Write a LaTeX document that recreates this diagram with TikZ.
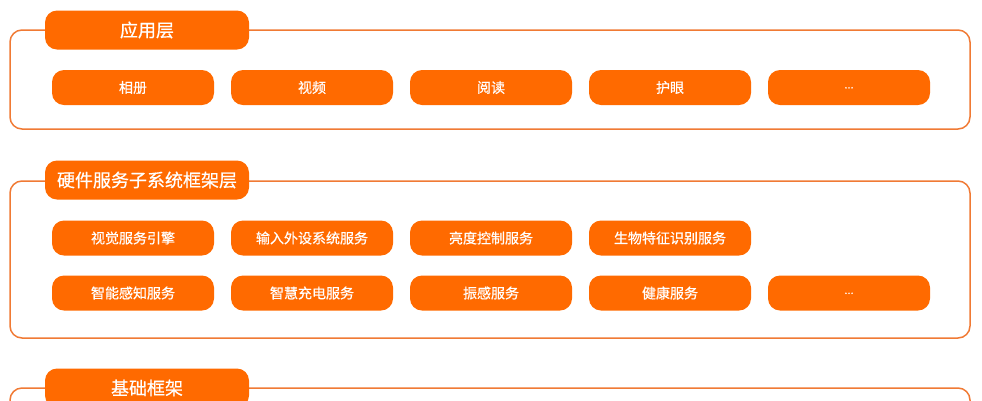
\documentclass[tikz,border=0pt]{standalone}
\usepackage{fontspec}
\newfontface\cjk{Noto Sans CJK SC}[FakeBold=0.6]
\definecolor{ofill}{RGB}{255,106,0}
\definecolor{oline}{RGB}{240,122,52}
\begin{document}
\begin{tikzpicture}[x=1pt,y=-1pt,
  frame/.style={draw=oline,line width=1.5pt,rounded corners=12pt},
  tab/.style={fill=ofill,rounded corners=12pt,minimum width=204pt,minimum height=39pt,inner sep=0pt,text=white,font=\cjk\fontsize{18}{20}\selectfont},
  btn/.style={fill=ofill,rounded corners=12pt,minimum width=162pt,minimum height=35pt,inner sep=0pt,text=white,font=\cjk\fontsize{14}{16}\selectfont}]
\useasboundingbox (0,0) rectangle (982,400);
\clip (0,0) rectangle (982,400);
% section 1
\draw[frame] (10,30) rectangle (970,129);
\node[tab] (t1) at (147,30) {应用层};
\node[btn] (a1) at (133,87.5) {相册};
\node[btn] (a2) at (312,87.5) {视频};
\node[btn] (a3) at (491,87.5) {阅读};
\node[btn] (a4) at (670,87.5) {护眼};
\node[btn] (a5) at (849,87.5) {\raisebox{-2pt}{\fontsize{11}{12}\selectfont ...}};
% section 2
\draw[frame] (10,181) rectangle (970,338);
\node[tab] (t2) at (147,180) {硬件服务子系统框架层};
\node[btn] (b1) at (133,238) {视觉服务引擎};
\node[btn] (b2) at (312,238) {输入外设系统服务};
\node[btn] (b3) at (491,238) {亮度控制服务};
\node[btn] (b4) at (670,238) {生物特征识别服务};
\node[btn] (c1) at (133,293) {智能感知服务};
\node[btn] (c2) at (312,293) {智慧充电服务};
\node[btn] (c3) at (491,293) {振感服务};
\node[btn] (c4) at (670,293) {健康服务};
\node[btn] (c5) at (849,293) {\raisebox{-2pt}{\fontsize{11}{12}\selectfont ...}};
% section 3
\draw[frame] (10,388) rectangle (970,520);
\node[tab] (t3) at (147,388) {基础框架};
\end{tikzpicture}
\end{document}
